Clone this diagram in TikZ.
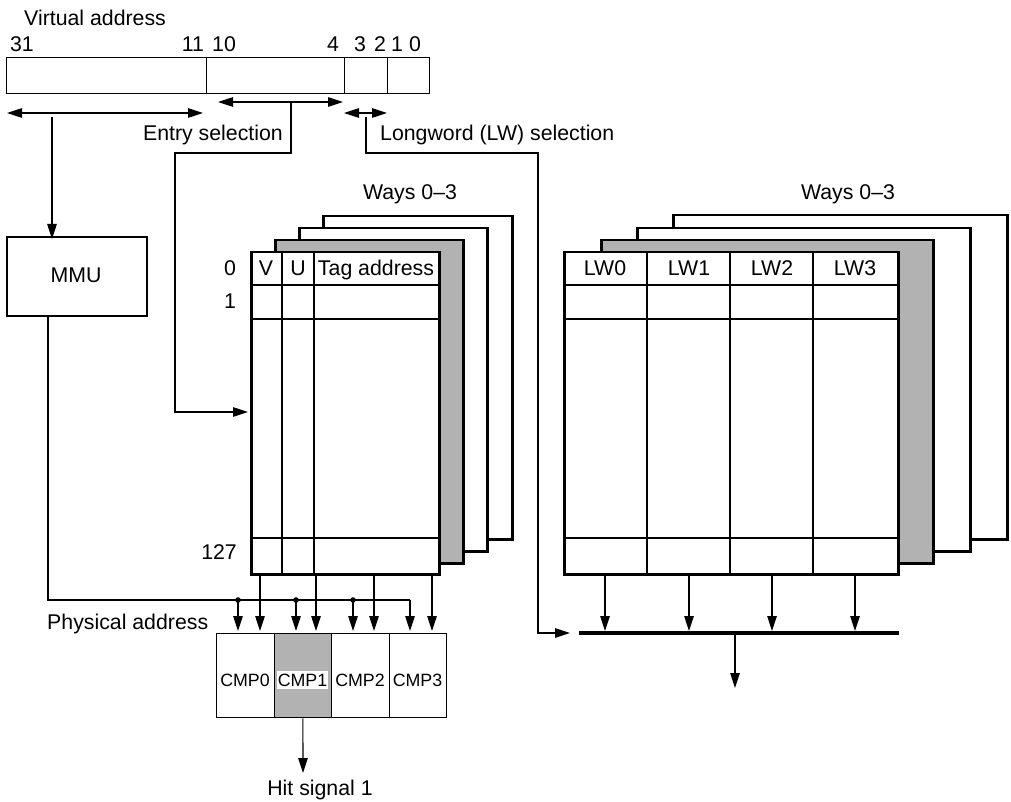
\documentclass[tikz,border=0pt]{standalone}
\usepackage{fontspec}
\setmainfont{Liberation Sans}
\usetikzlibrary{arrows.meta}
\definecolor{shade}{gray}{0.7}
\begin{document}
\begin{tikzpicture}[x=1pt,y=-1pt,
  font=\fontsize{21.3}{25}\selectfont,
  thinline/.style={line width=1.1pt},
  frame/.style={draw, line width=2.5pt, fill=white, inner sep=0pt, anchor=north west},
  arr/.style={line width=1.1pt, -{Triangle[length=15pt,width=9.5pt]}},
  darr/.style={line width=1.1pt, {Triangle[length=15pt,width=9.5pt]}-{Triangle[length=15pt,width=9.5pt]}},
  lbl/.style={inner sep=0pt, anchor=base},
  field/.style={draw, line width=1.3pt, minimum height=36pt, inner sep=0pt, anchor=north west},
  cmpbox/.style={draw, line width=1.3pt, minimum width=57.5pt, minimum height=84pt, inner sep=0pt, anchor=north west},
  cmptext/.style={inner sep=0pt, anchor=base, font=\fontsize{17.8}{20}\selectfont},
]
\useasboundingbox (0,0) rectangle (1011,802);

% ---------- virtual address register ----------
\node[lbl, anchor=base west] (va) at (24,25.5) {Virtual address};
\node[field, minimum width=200pt] (fa) at (6,57) {};
\node[field, minimum width=138pt] (fb) at (206,57) {};
\node[field, minimum width=43pt] (fc) at (344,57) {};
\node[field, minimum width=42pt] (fd) at (387,57) {};
\node[lbl] (n31) at (22,52) {31};
\node[lbl] (n11) at (193,52) {11};
\node[lbl] (n10) at (224,52) {10};
\node[lbl] (n4) at (333,52) {4};
\node[lbl] (n3) at (360,52) {3};
\node[lbl] (n2) at (380,52) {2};
\node[lbl] (n1) at (397,52) {1};
\node[lbl] (n0) at (415,52) {0};

% range arrows
\coordinate (ra1) at (7,113);   \coordinate (ra2) at (203,113);
\coordinate (rb1) at (218,102); \coordinate (rb2) at (343,102);
\coordinate (rc1) at (344,113); \coordinate (rc2) at (387,113);
\draw[darr] (ra1) -- (ra2);
\draw[darr] (rb1) -- (rb2);
\draw[darr] (rc1) -- (rc2);

\node[lbl, anchor=base east] (es) at (283,141) {Entry selection};
\node[lbl, anchor=base west] (ls) at (380,141) {Longword (LW) selection};

% ---------- MMU ----------
\node[draw, line width=2pt, minimum width=140pt, minimum height=79pt, inner sep=0pt, anchor=north west] (mmu) at (6,236) {};
\node[lbl] (mmut) at (76,282) {MMU};
\coordinate (ma) at (52,117);
\draw[arr] (ma) -- ([yshift=-3pt]ma |- mmu.north);

% ---------- tag arrays ----------
\node[lbl] (waysA) at (410,200) {Ways 0--3};
\node[frame, minimum width=189pt, minimum height=323pt] (tag3) at (322,215) {};
\node[frame, minimum width=188pt, minimum height=323pt] (tag2) at (298,227) {};
\node[frame, fill=shade, minimum width=188pt, minimum height=323pt] (tag1) at (274,239) {};
\node[frame, minimum width=188pt, minimum height=322pt] (tag0) at (250,251) {};
\draw[thinline] (250,285) -- (438,285) (250,319) -- (438,319) (250,538) -- (438,538);
\draw[thinline] (282,251) -- (282,573) (314,251) -- (314,573);
\node[lbl] (tv) at (266,275) {V};
\node[lbl] (tu) at (298,275) {U};
\node[lbl] (tt) at (376,275) {Tag address};
\node[lbl] (r0) at (230,275) {0};
\node[lbl] (r1) at (230,308) {1};
\node[lbl, anchor=base east] (r127) at (237,559) {127};

% ---------- data arrays ----------
\node[lbl] (waysB) at (848,200) {Ways 0--3};
\node[frame, minimum width=334pt, minimum height=324pt] (dat3) at (672,214) {};
\node[frame, minimum width=333pt, minimum height=323pt] (dat2) at (636,227) {};
\node[frame, fill=shade, minimum width=332pt, minimum height=323pt] (dat1) at (600,239) {};
\node[frame, minimum width=334pt, minimum height=322pt] (dat0) at (563,251) {};
\draw[thinline] (563,285) -- (897,285) (563,319) -- (897,319) (563,538) -- (897,538);
\draw[thinline] (647,251) -- (647,573) (730,251) -- (730,573) (813,251) -- (813,573);
\node[lbl] (lw0) at (605,276) {LW0};
\node[lbl] (lw1) at (689,276) {LW1};
\node[lbl] (lw2) at (772,276) {LW2};
\node[lbl] (lw3) at (855,276) {LW3};

% ---------- entry selection path ----------
\coordinate (e1) at (291,102);
\coordinate (e2) at (291,153);
\coordinate (e3) at (175,153);
\coordinate (e4) at (175,412);
\draw[arr] (e1) -- (e2) -- (e3) -- (e4) -- ([xshift=-2pt]e4 -| tag0.west);

% ---------- comparators ----------
\node[cmpbox] (c0) at (216,633) {};
\node[cmpbox, fill=shade] (c1) at (273.5,633) {};
\node[cmpbox] (c2) at (331,633) {};
\node[cmpbox] (c3) at (388.5,633) {};
\node[cmptext] (c0t) at (245,686) {CMP0};
\node[cmptext, fill=white, inner xsep=1pt, inner ysep=3pt] (c1t) at (302.5,686) {CMP1};
\node[cmptext] (c2t) at (360,686) {CMP2};
\node[cmptext] (c3t) at (417.5,686) {CMP3};

% tag outputs
\foreach \x/\n in {260/ta0,316/ta1,374/ta2,432/ta3}{
  \coordinate (\n) at (\x,573);
  \draw[arr] (\n) -- ([yshift=2pt]\n |- c0.north);
}

% physical address
\coordinate (p1) at (48,600);
\coordinate (p2) at (410,600);
\draw[thinline] (mmu.south -| p1) -- (p1) -- (p2);
\draw[arr] (p2) -- ([yshift=2pt]p2 |- c0.north);
\foreach \x/\n in {238/d0,296/d1,353/d2}{
  \coordinate (\n) at (\x,600);
  \fill (\n) circle (2.8pt);
  \draw[arr] (\n) -- ([yshift=2pt]\n |- c0.north);
}
\node[lbl, anchor=base west] (pa) at (47,629) {Physical address};

% hit signal
\coordinate (h1) at (303,773);
\draw[arr] (c1.south) -- (h1);
\node[lbl] (hit) at (320,795) {Hit signal 1};

% ---------- LW selection path and bus ----------
\coordinate (busL) at (579,633);
\coordinate (busR) at (899,633);
\draw[line width=4.5pt] (busL) -- (busR);
\coordinate (l1) at (366,117);
\coordinate (l2) at (366,153);
\coordinate (l3) at (538,153);
\coordinate (l4) at (538,633);
\coordinate (l5) at (570,633);
\draw[arr] (l1) -- (l2) -- (l3) -- (l4) -- (l5);
\foreach \x/\n in {605/da0,689/da1,772/da2,855/da3}{
  \coordinate (\n) at (\x,573);
  \draw[arr] (\n) -- (\x,631);
}
\coordinate (bo) at (735,633);
\coordinate (bo2) at (735,688);
\draw[arr] (bo) -- (bo2);
\end{tikzpicture}
\end{document}
